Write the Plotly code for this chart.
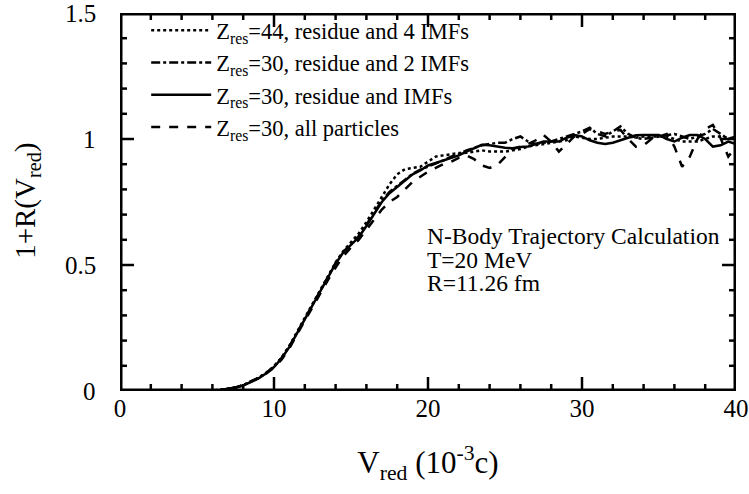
import plotly.graph_objects as go

# ---- data ----
v_red = [5, 5.5, 6, 6.5, 7, 7.5, 8, 8.5, 9, 9.5, 10, 10.5, 11, 11.5, 12, 12.5, 13, 13.5, 14, 14.5,
         15, 15.5, 16, 16.5, 17, 17.5, 18, 18.5, 19, 19.5, 20, 20.5, 21, 21.5, 22, 22.5, 23, 23.5, 24, 24.5,
         25, 25.5, 26, 26.5, 27, 27.5, 28, 28.5, 29, 29.5, 30, 30.5, 31, 31.5, 32, 32.5, 33, 33.5, 34, 34.5,
         35, 35.5, 36, 36.5, 37, 37.5, 38, 38.5, 39, 39.5, 40]

z44_4imf = [0, 0, 0.002, 0.005, 0.009, 0.015, 0.023, 0.036, 0.052, 0.072, 0.098, 0.133, 0.18, 0.235, 0.29, 0.345, 0.4, 0.455, 0.51, 0.555,
            0.59, 0.625, 0.67, 0.72, 0.77, 0.82, 0.86, 0.88, 0.885, 0.89, 0.91, 0.93, 0.935, 0.94, 0.944, 0.945, 0.95, 0.955, 0.95, 0.95,
            0.95, 0.955, 0.96, 0.97, 0.975, 0.98, 0.985, 0.99, 0.995, 1.01, 1.005, 1.0, 1.0, 1.005, 1.01, 1.01, 1.01, 1.005, 1.01, 1.01,
            1.01, 1.01, 1.0, 0.99, 0.99, 0.99, 1.0, 1.01, 1.01, 1.005, 1.0]

z30_2imf = [0, 0, 0.002, 0.004, 0.008, 0.014, 0.023, 0.037, 0.053, 0.073, 0.098, 0.132, 0.178, 0.232, 0.288, 0.342, 0.398, 0.452, 0.508, 0.552,
            0.585, 0.615, 0.66, 0.71, 0.755, 0.79, 0.815, 0.84, 0.862, 0.878, 0.89, 0.9, 0.915, 0.93, 0.94, 0.955, 0.965, 0.975, 0.98, 0.985,
            0.985, 1.0, 1.01, 0.99, 0.98, 0.985, 0.99, 1.0, 1.01, 1.02, 1.03, 1.045, 1.02, 1.01, 1.03, 1.05, 1.02, 1.005, 1.0, 1.005,
            1.01, 1.015, 1.02, 1.01, 1.0, 1.01, 1.02, 1.04, 1.02, 1.0, 1.01]

z30_imf = [0, 0, 0.002, 0.004, 0.008, 0.014, 0.022, 0.035, 0.05, 0.07, 0.095, 0.13, 0.175, 0.23, 0.285, 0.34, 0.395, 0.45, 0.505, 0.55,
           0.58, 0.61, 0.655, 0.705, 0.75, 0.785, 0.81, 0.835, 0.86, 0.875, 0.895, 0.905, 0.915, 0.925, 0.935, 0.95, 0.965, 0.977, 0.975, 0.97,
           0.965, 0.963, 0.968, 0.97, 0.98, 0.99, 0.99, 0.99, 1.005, 1.016, 1.01, 0.995, 0.985, 0.98, 0.985, 0.995, 1.005, 1.015, 1.016, 1.016,
           1.016, 1.0, 0.99, 1.005, 1.016, 1.016, 1.0, 0.97, 0.975, 0.99, 0.98]

z30_all = [0, 0, 0.001, 0.003, 0.007, 0.013, 0.024, 0.038, 0.052, 0.07, 0.093, 0.125, 0.17, 0.225, 0.28, 0.335, 0.39, 0.44, 0.49, 0.535,
           0.57, 0.6, 0.64, 0.68, 0.72, 0.75, 0.77, 0.8, 0.83, 0.85, 0.87, 0.885, 0.9, 0.91, 0.925, 0.935, 0.92, 0.895, 0.885, 0.897,
           0.93, 0.96, 0.97, 0.98, 0.995, 1.016, 0.99, 0.95, 0.98, 1.01, 1.02, 1.04, 1.03, 1.02, 1.03, 1.036, 1.0, 0.97, 0.975, 1.0,
           1.01, 1.02, 0.97, 0.89, 0.93, 1.0, 1.04, 1.056, 1.003, 0.93, 0.97]

series_names = ["Z<sub>res</sub>=44, residue and 4 IMFs",
                "Z<sub>res</sub>=30, residue and 2 IMFs",
                "Z<sub>res</sub>=30, residue and IMFs",
                "Z<sub>res</sub>=30, all particles"]
series_values = [z44_4imf, z30_2imf, z30_imf, z30_all]
series_dash = ["dot", "dashdot", "solid", "dash"]

x_range = [0, 40]
y_range = [0, 1.5]
x_ticks = [0, 10, 20, 30, 40]
y_ticks = [0, 0.5, 1, 1.5]
y_tick_text = ["0", "0.5", "1", "1.5"]
x_minor_step = 2
y_minor_step = 0.1

info_lines = ["N-Body Trajectory Calculation", "T=20 MeV", "R=11.26 fm"]

FONT = "Liberation Serif, Times New Roman, serif"

# plot-area size in pixels (layout below), used to turn tick lengths into axis units
W, H = 749, 494
ML, MR, MT, MB = 120, 13, 13, 103
PW, PH = W - ML - MR, H - MT - MB
x_per_px = (x_range[1] - x_range[0]) / PW
y_per_px = (y_range[1] - y_range[0]) / PH
MAJOR_PX, MINOR_PX = 14, 7

fig = go.Figure()
for name, vals, dash in zip(series_names, series_values, series_dash):
    fig.add_trace(go.Scatter(x=v_red, y=vals, mode="lines", name=name,
                             line=dict(color="black", width=2.5, dash=dash)))

# frame and inside ticks on all four sides (drawn as line traces)
tx, ty = [], []
n_x = int(round((x_range[1] - x_range[0]) / x_minor_step))
for i in range(n_x + 1):
    xv = x_range[0] + i * x_minor_step
    ln = (MAJOR_PX if any(abs(xv - t) < 1e-9 for t in x_ticks) else MINOR_PX) * y_per_px
    tx += [xv, xv, None, xv, xv, None]
    ty += [y_range[0], y_range[0] + ln, None, y_range[1], y_range[1] - ln, None]
n_y = int(round((y_range[1] - y_range[0]) / y_minor_step))
for i in range(n_y + 1):
    yv = y_range[0] + i * y_minor_step
    ln = (MAJOR_PX if any(abs(yv - t) < 1e-9 for t in y_ticks) else MINOR_PX) * x_per_px
    tx += [x_range[0], x_range[0] + ln, None, x_range[1], x_range[1] - ln, None]
    ty += [yv, yv, None, yv, yv, None]
fig.add_trace(go.Scatter(x=tx, y=ty, mode="lines", line=dict(color="black", width=2.5, simplify=False),
                         showlegend=False, hoverinfo="skip"))
fig.add_trace(go.Scatter(x=[x_range[0], x_range[1], x_range[1], x_range[0], x_range[0]],
                         y=[y_range[0], y_range[0], y_range[1], y_range[1], y_range[0]],
                         mode="lines", line=dict(color="black", width=5),
                         showlegend=False, hoverinfo="skip"))

fig.update_xaxes(range=x_range, tickmode="array", tickvals=x_ticks, automargin=False,
                 showgrid=False, zeroline=False, showline=False, ticks="",
                 tickfont=dict(family=FONT, size=25, color="black"),
                 title=dict(text="V<sub>red</sub> (10<sup>-3</sup>c)", font=dict(family=FONT, size=31, color="black"),
                            standoff=30))
fig.update_yaxes(range=y_range, showgrid=False, zeroline=False, showline=False, ticks="",
                 showticklabels=False, automargin=False)

# y tick labels and y title as text placed at the axis
for yv, label in zip(y_ticks, y_tick_text):
    fig.add_annotation(x=-22 / PW, y=yv, xref="paper", yref="y", xanchor="right", yanchor="middle",
                       showarrow=False, text=label, font=dict(family=FONT, size=25, color="black"))
fig.add_annotation(x=-93 / PW, y=0.503, xref="paper", yref="paper", xanchor="center", yanchor="middle",
                   textangle=-90, showarrow=False, text="1+R(V<sub>red</sub>)",
                   font=dict(family=FONT, size=29, color="black"))

for i, line in enumerate(info_lines):
    fig.add_annotation(x=0.495, y=0.41 - i * 0.0625, xref="paper", yref="paper",
                       xanchor="left", yanchor="middle", align="left", showarrow=False,
                       text=line, font=dict(family=FONT, size=23.5, color="black"))

fig.update_layout(
    width=W, height=H,
    margin=dict(l=ML, r=MR, t=MT, b=MB, autoexpand=False),
    paper_bgcolor="white", plot_bgcolor="white",
    showlegend=True,
    legend=dict(x=0.0425, y=1.01, xanchor="left", yanchor="top", bgcolor="rgba(0,0,0,0)",
                font=dict(family=FONT, size=22.5, color="black"), tracegroupgap=0,
                itemwidth=60),
    font=dict(family=FONT, color="black"),
)

fig.write_html("out.html")
